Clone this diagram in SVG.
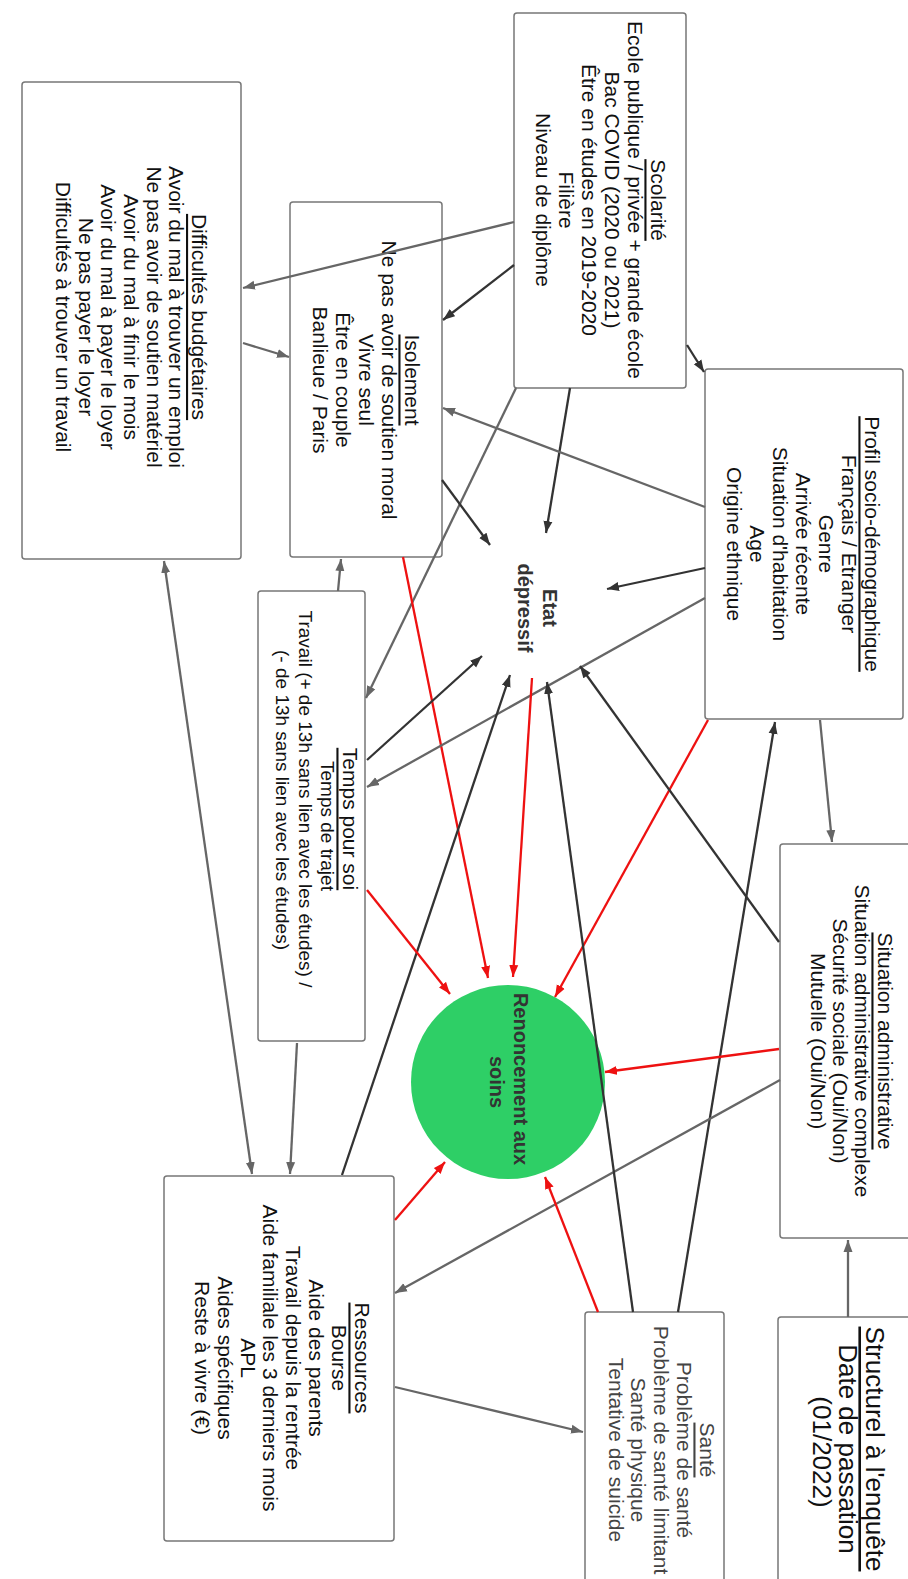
<svg xmlns="http://www.w3.org/2000/svg" width="908" height="1579" viewBox="0 0 908 1579">
<style>
.box{fill:#fff;stroke:#777;stroke-width:1.5}
.t{font-family:"Liberation Sans",Arial,sans-serif;font-size:21px;fill:#111;text-anchor:middle;dominant-baseline:central}
.s{font-size:19px}
.u{text-decoration:underline}
.g{fill:#444}
.big{font-size:26px}
.b{font-weight:bold;font-size:20px;fill:#333}
.cd{stroke:#333;stroke-width:2.3;fill:none}
.cg{stroke:#666;stroke-width:2.3;fill:none}
.cr{stroke:#ee1111;stroke-width:2.3;fill:none}
</style>
<defs>
<marker id="ad" markerUnits="userSpaceOnUse" markerWidth="13" markerHeight="10" refX="12" refY="5" orient="auto"><path d="M0,0.5 L12,5 L0,9.5 z" fill="#333"/></marker>
<marker id="ag" markerUnits="userSpaceOnUse" markerWidth="13" markerHeight="10" refX="12" refY="5" orient="auto"><path d="M0,0.5 L12,5 L0,9.5 z" fill="#666"/></marker>
<marker id="ags" markerUnits="userSpaceOnUse" markerWidth="13" markerHeight="10" refX="12" refY="5" orient="auto-start-reverse"><path d="M0,0.5 L12,5 L0,9.5 z" fill="#666"/></marker>
<marker id="ar" markerUnits="userSpaceOnUse" markerWidth="13" markerHeight="10" refX="12" refY="5" orient="auto"><path d="M0,0.5 L12,5 L0,9.5 z" fill="#ee1111"/></marker>
</defs>
<rect width="908" height="1579" fill="#fff"/>

<g id="scolarite">
<rect class="box" x="514" y="13" width="172" height="375" rx="3"/>
<text class="t u" transform="translate(658,200) rotate(90)">Scolarité</text>
<text class="t" transform="translate(635,200) rotate(90)">Ecole publique / privée + grande école</text>
<text class="t" transform="translate(612,200) rotate(90)">Bac COVID (2020 ou 2021)</text>
<text class="t" transform="translate(589,200) rotate(90)">Être en études en 2019-2020</text>
<text class="t" transform="translate(566,200) rotate(90)">Filière</text>
<text class="t" transform="translate(543,200) rotate(90)">Niveau de diplôme</text>
</g>

<g id="difficultes">
<rect class="box" x="22" y="82" width="219" height="477" rx="3"/>
<text class="t u" transform="translate(199.6,317) rotate(90)">Difficultés budgétaires</text>
<text class="t" transform="translate(176.9,317) rotate(90)">Avoir du mal à trouver un emploi</text>
<text class="t" transform="translate(154.2,317) rotate(90)">Ne pas avoir de soutien matériel</text>
<text class="t" transform="translate(131.5,317) rotate(90)">Avoir du mal à finir le mois</text>
<text class="t" transform="translate(108.8,317) rotate(90)">Avoir du mal à payer le loyer</text>
<text class="t" transform="translate(86.1,317) rotate(90)">Ne pas payer le loyer</text>
<text class="t" transform="translate(63.4,317) rotate(90)">Difficultés à trouver un travail</text>
</g>

<g id="isolement">
<rect class="box" x="290" y="202" width="152" height="355" rx="3"/>
<text class="t u" transform="translate(412,380) rotate(90)">Isolement</text>
<text class="t" transform="translate(389,380) rotate(90)">Ne pas avoir de soutien moral</text>
<text class="t" transform="translate(366,380) rotate(90)">Vivre seul</text>
<text class="t" transform="translate(343,380) rotate(90)">Être en couple</text>
<text class="t" transform="translate(320,380) rotate(90)">Banlieue / Paris</text>
</g>

<g id="profil">
<rect class="box" x="705" y="369" width="198" height="350" rx="3"/>
<text class="t u" transform="translate(872,544) rotate(90)">Profil socio-démographique</text>
<text class="t" transform="translate(849,544) rotate(90)">Français / Etranger</text>
<text class="t" transform="translate(826,544) rotate(90)">Genre</text>
<text class="t" transform="translate(803,544) rotate(90)">Arrivée récente</text>
<text class="t" transform="translate(780,544) rotate(90)">Situation d'habitation</text>
<text class="t" transform="translate(757,544) rotate(90)">Age</text>
<text class="t" transform="translate(734,544) rotate(90)">Origine ethnique</text>
</g>

<g id="etat">
<text class="t b" transform="translate(550,608) rotate(90)">Etat</text>
<text class="t b" transform="translate(525,608) rotate(90)">dépressif</text>
</g>

<g id="temps">
<rect class="box" x="258" y="591" width="107" height="450" rx="3"/>
<text class="t u" transform="translate(350,819) rotate(90)">Temps pour soi</text>
<text class="t s" transform="translate(327,826) rotate(90)">Temps de trajet</text>
<text class="t s" transform="translate(305,799) rotate(90)">Travail (+ de 13h sans lien avec les études) /</text>
<text class="t s" transform="translate(282,800) rotate(90)">(- de 13h sans lien avec les études)</text>
</g>

<g id="renoncement">
<circle cx="508" cy="1082" r="97" fill="#2ecf66"/>
<text class="t b" transform="translate(521,1079) rotate(90)">Renoncement aux</text>
<text class="t b" transform="translate(497,1082) rotate(90)">soins</text>
</g>

<g id="situation">
<rect class="box" x="780" y="844" width="142" height="394" rx="3"/>
<text class="t u" transform="translate(885,1041) rotate(90)">Situation administrative</text>
<text class="t" transform="translate(862,1041) rotate(90)">Situation administrative complexe</text>
<text class="t" transform="translate(840,1041) rotate(90)">Sécurité sociale (Oui/Non)</text>
<text class="t" transform="translate(818,1041) rotate(90)">Mutuelle (Oui/Non)</text>
</g>

<g id="ressources">
<rect class="box" x="164" y="1176" width="230" height="365" rx="3"/>
<text class="t u" transform="translate(362,1358) rotate(90)">Ressources</text>
<text class="t" transform="translate(339,1358) rotate(90)">Bourse</text>
<text class="t" transform="translate(316,1358) rotate(90)">Aide des parents</text>
<text class="t" transform="translate(293,1358) rotate(90)">Travail depuis la rentrée</text>
<text class="t" transform="translate(270,1358) rotate(90)">Aide familiale les 3 derniers mois</text>
<text class="t" transform="translate(248,1358) rotate(90)">APL</text>
<text class="t" transform="translate(225,1358) rotate(90)">Aides spécifiques</text>
<text class="t" transform="translate(202,1358) rotate(90)">Reste à vivre (€)</text>
</g>

<g id="sante">
<rect class="box" x="585" y="1312" width="139" height="280" rx="3"/>
<text class="t g u" transform="translate(707,1450) rotate(90)">Santé</text>
<text class="t g" transform="translate(684,1450) rotate(90)">Problème de santé</text>
<text class="t g" transform="translate(661,1450) rotate(90)">Problème de santé limitant</text>
<text class="t g" transform="translate(638,1450) rotate(90)">Santé physique</text>
<text class="t g" transform="translate(616,1450) rotate(90)">Tentative de suicide</text>
</g>

<g id="structurel">
<rect class="box" x="778" y="1317" width="142" height="275" rx="3"/>
<text class="t big u" transform="translate(875,1449) rotate(90)">Structurel à l'enquête</text>
<text class="t big" transform="translate(848,1449) rotate(90)">Date de passation</text>
<text class="t big" transform="translate(822,1452) rotate(90)">(01/2022)</text>
</g>

<g id="connectors">
<line class="cg" x1="514" y1="222" x2="243" y2="288" marker-end="url(#ag)"/>
<line class="cd" x1="514" y1="265" x2="443" y2="320" marker-end="url(#ad)"/>
<line class="cg" x1="243" y1="343" x2="289" y2="357" marker-end="url(#ag)"/>
<line class="cd" x1="687" y1="345" x2="704" y2="372" marker-end="url(#ad)"/>
<line class="cd" x1="570" y1="388" x2="546" y2="533" marker-end="url(#ad)"/>
<line class="cg" x1="516" y1="388" x2="366" y2="698" marker-end="url(#ag)"/>
<line class="cd" x1="442" y1="480" x2="490" y2="545" marker-end="url(#ad)"/>
<line class="cr" x1="403" y1="557" x2="488" y2="978" marker-end="url(#ar)"/>
<line class="cg" x1="705" y1="507" x2="443" y2="408" marker-end="url(#ag)"/>
<line class="cd" x1="705" y1="568" x2="607" y2="589" marker-end="url(#ad)"/>
<line class="cg" x1="705" y1="598" x2="367" y2="787" marker-end="url(#ag)"/>
<line class="cr" x1="708" y1="720" x2="555" y2="997" marker-end="url(#ar)"/>
<line class="cg" x1="820" y1="720" x2="832" y2="842" marker-end="url(#ag)"/>
<line class="cd" x1="678" y1="1312" x2="775" y2="722" marker-end="url(#ad)"/>
<line class="cd" x1="779" y1="942" x2="580" y2="666" marker-end="url(#ad)"/>
<line class="cr" x1="779" y1="1049" x2="605" y2="1072" marker-end="url(#ar)"/>
<line class="cg" x1="780" y1="1080" x2="395" y2="1293" marker-end="url(#ag)"/>
<line class="cd" x1="633" y1="1312" x2="547" y2="682" marker-end="url(#ad)"/>
<line class="cr" x1="598" y1="1312" x2="545" y2="1177" marker-end="url(#ar)"/>
<line class="cg" x1="848" y1="1317" x2="848" y2="1240" marker-end="url(#ag)"/>
<line class="cg" x1="395" y1="1387" x2="583" y2="1432" marker-end="url(#ag)"/>
<line class="cr" x1="395" y1="1220" x2="445" y2="1162" marker-end="url(#ar)"/>
<line class="cd" x1="342" y1="1175" x2="510" y2="675" marker-end="url(#ad)"/>
<line class="cd" x1="367" y1="760" x2="482" y2="656" marker-end="url(#ad)"/>
<line class="cr" x1="367" y1="890" x2="450" y2="994" marker-end="url(#ar)"/>
<line class="cg" x1="297" y1="1043" x2="290" y2="1174" marker-end="url(#ag)"/>
<line class="cg" x1="338" y1="591" x2="341" y2="559" marker-end="url(#ag)"/>
<line class="cg" x1="164" y1="561" x2="252" y2="1174" marker-start="url(#ags)" marker-end="url(#ags)"/>
<line class="cr" x1="532" y1="678" x2="513" y2="977" marker-end="url(#ar)"/>
</g>
</svg>
